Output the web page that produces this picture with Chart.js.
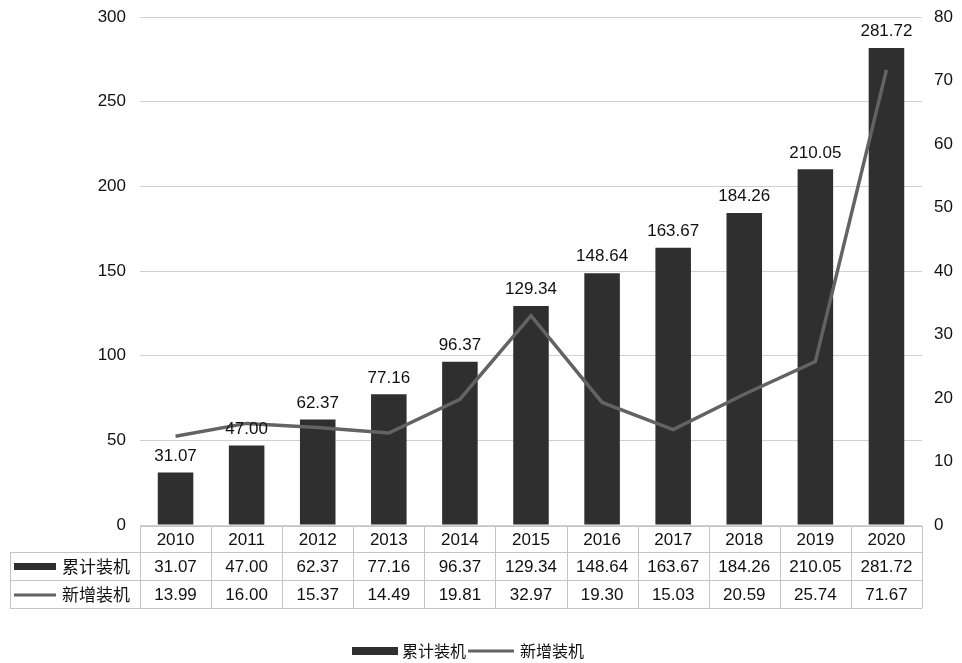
<!DOCTYPE html>
<html>
<head>
<meta charset="utf-8">
<script src="https://cdn.jsdelivr.net/npm/chart.js@4.4.1/dist/chart.umd.min.js"></script>
<style>
  html, body { margin: 0; padding: 0; background: #fff; }
  #wrap { width: 962px; height: 663px; }
</style>
</head>
<body>
<div id="wrap"><canvas id="chart" width="962" height="663"></canvas></div>
<script>
// data
const years = ['2010', '2011', '2012', '2013', '2014', '2015', '2016', '2017', '2018', '2019', '2020'];
const cumulative = [31.07, 47.00, 62.37, 77.16, 96.37, 129.34, 148.64, 163.67, 184.26, 210.05, 281.72];
const added = [13.99, 16.00, 15.37, 14.49, 19.81, 32.97, 19.30, 15.03, 20.59, 25.74, 71.67];
const seriesNames = ['累计装机', '新增装机'];

const NUM_FAMILY = '"Liberation Sans", Arial, sans-serif';
const NUM_FONT = '17px ' + NUM_FAMILY;
const CJK_HEAD = '17px "Noto Sans CJK SC", sans-serif';
const CJK_LEGEND = '16px "Noto Sans CJK SC", sans-serif';
const BAR_COLOR = '#2f2f2f';
const LINE_COLOR = '#636363';
const BORDER = '#c4c4c4';

// bar value labels, data table under the axis and the legend
const tablePlugin = {
    id: 'tablePlugin',
    afterDatasetsDraw(chart) {
        const ctx = chart.ctx;
        const bars = chart.getDatasetMeta(0).data;

        ctx.save();
        ctx.fillStyle = '#111';
        ctx.font = NUM_FONT;
        ctx.textAlign = 'center';
        ctx.textBaseline = 'bottom';
        bars.forEach((bar, i) => {
            ctx.fillText(cumulative[i].toFixed(2), bar.x, bar.y - 8);
        });
        ctx.restore();
    },
    afterDraw(chart) {
        const ctx = chart.ctx;
        const x = chart.scales.x;
        const area = chart.chartArea;
        const colW = (area.right - area.left) / years.length;
        const top = area.bottom + 1;
        const rowH = [26, 28, 28];
        const labelLeft = 10;

        ctx.save();
        ctx.strokeStyle = BORDER;
        ctx.lineWidth = 1;

        // horizontal lines
        let y = top;
        ctx.beginPath();
        ctx.moveTo(area.left, y + 0.5);
        ctx.lineTo(area.right, y + 0.5);
        rowH.forEach((h) => {
            y += h;
            ctx.moveTo(labelLeft, Math.round(y) + 0.5);
            ctx.lineTo(area.right, Math.round(y) + 0.5);
        });
        // vertical lines
        for (let i = 0; i <= years.length; i++) {
            const vx = Math.round(area.left + i * colW) + 0.5;
            ctx.moveTo(vx, top);
            ctx.lineTo(vx, y);
        }
        ctx.moveTo(labelLeft + 0.5, top + rowH[0]);
        ctx.lineTo(labelLeft + 0.5, y);
        ctx.stroke();

        // cell text
        ctx.fillStyle = '#111';
        ctx.font = NUM_FONT;
        ctx.textAlign = 'center';
        ctx.textBaseline = 'middle';
        const rows = [years, cumulative.map(v => v.toFixed(2)), added.map(v => v.toFixed(2))];
        let ry = top;
        rows.forEach((row, r) => {
            const cy = ry + rowH[r] / 2 + 1;
            row.forEach((txt, i) => {
                ctx.fillText(txt, x.getPixelForValue(i), cy);
            });
            ry += rowH[r];
        });

        // row headers
        const r1 = top + rowH[0] + rowH[1] / 2;
        const r2 = top + rowH[0] + rowH[1] + rowH[2] / 2;
        ctx.fillStyle = BAR_COLOR;
        ctx.fillRect(14, r1 - 3, 42, 7);
        ctx.strokeStyle = LINE_COLOR;
        ctx.lineWidth = 3;
        ctx.beginPath();
        ctx.moveTo(14, r2 + 1);
        ctx.lineTo(56, r2 + 1);
        ctx.stroke();
        ctx.fillStyle = '#111';
        ctx.font = CJK_HEAD;
        ctx.textAlign = 'left';
        ctx.fillText(seriesNames[0], 62, r1 + 1);
        ctx.fillText(seriesNames[1], 62, r2 + 1);

        // legend
        const ly = 651;
        ctx.font = CJK_LEGEND;
        ctx.fillStyle = BAR_COLOR;
        ctx.fillRect(352, ly - 4, 46, 8);
        ctx.fillStyle = '#111';
        ctx.fillText(seriesNames[0], 402, ly);
        ctx.strokeStyle = LINE_COLOR;
        ctx.beginPath();
        ctx.moveTo(468, ly);
        ctx.lineTo(514, ly);
        ctx.stroke();
        ctx.fillText(seriesNames[1], 520, ly);
        ctx.restore();
    }
};

// fixed axis widths, no extra room for the end labels
function fitAxis(width) {
    return (s) => {
        s.width = width;
        s.paddingTop = 0;
        s.paddingBottom = 0;
    };
}

const ctx = document.getElementById('chart').getContext('2d');
new Chart(ctx, {
    type: 'bar',
    data: {
        labels: years,
        datasets: [
            {
                type: 'bar',
                label: seriesNames[0],
                data: cumulative,
                backgroundColor: BAR_COLOR,
                categoryPercentage: 1,
                barPercentage: 0.5,
                yAxisID: 'y',
                order: 2
            },
            {
                type: 'line',
                label: seriesNames[1],
                data: added,
                borderColor: LINE_COLOR,
                borderWidth: 3.5,
                pointRadius: 0,
                tension: 0,
                yAxisID: 'y1',
                order: 1
            }
        ]
    },
    options: {
        responsive: false,
        animation: false,
        layout: { padding: { top: 17, bottom: 138, left: 0, right: 0 } },
        plugins: {
            legend: { display: false },
            tooltip: { enabled: false }
        },
        scales: {
            x: { display: false },
            y: {
                position: 'left',
                min: 0,
                max: 300,
                afterFit: fitAxis(140),
                border: { display: false },
                grid: { color: '#d0d0d0', drawTicks: false },
                ticks: {
                    stepSize: 50,
                    padding: 14,
                    color: '#111',
                    font: { family: NUM_FAMILY, size: 17 }
                }
            },
            y1: {
                position: 'right',
                min: 0,
                max: 80,
                afterFit: fitAxis(40),
                border: { display: false },
                grid: { display: false, drawTicks: false },
                ticks: {
                    stepSize: 10,
                    padding: 12,
                    color: '#111',
                    font: { family: NUM_FAMILY, size: 17 }
                }
            }
        }
    },
    plugins: [tablePlugin]
});
</script>
</body>
</html>
